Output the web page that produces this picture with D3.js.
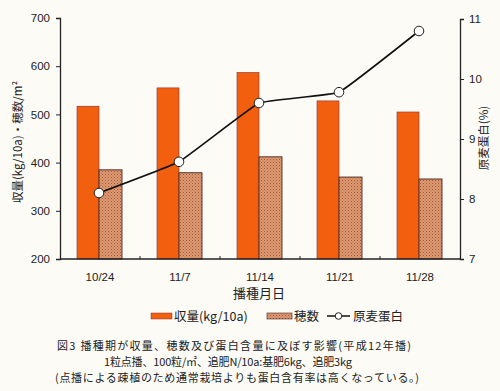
<!DOCTYPE html>
<html><head><meta charset="utf-8">
<script src="https://cdn.jsdelivr.net/npm/d3@7"></script>
<style>
html,body{margin:0;padding:0;background:#fcfbf6;}
svg{display:block;}
</style></head>
<body>
<script>
const dates = ["10/24","11/7","11/14","11/21","11/28"];
const yieldVals = [517, 555, 587, 528, 505];
const earVals = [385, 379, 412, 370, 366];
const proteinVals = [8.1, 8.62, 9.6, 9.78, 10.8];
const leftTicks = [200,300,400,500,600,700];
const rightTicks = [7,8,9,10,11];
const captionLines = [
  "図3  播種期が収量、穂数及び蛋白含量に及ぼす影響(平成12年播)",
  "1粒点播、100粒/㎡、追肥N/10a:基肥6kg、追肥3kg",
  "(点播による疎植のため通常栽培よりも蛋白含有率は高くなっている。)"
];

const W=500,H=391;
const svg=d3.select("body").append("svg").attr("width",W).attr("height",H);
svg.append("rect").attr("width",W).attr("height",H).attr("fill","#fcfbf6");
const defs=svg.append("defs");
const pat=defs.append("pattern").attr("id","hatch").attr("patternUnits","userSpaceOnUse").attr("width",3).attr("height",3);
pat.append("rect").attr("width",3).attr("height",3).attr("fill","#dc9a72");
pat.append("rect").attr("x",0).attr("y",0).attr("width",1).attr("height",1).attr("fill","#a8583a");
pat.append("rect").attr("x",1.5).attr("y",1.5).attr("width",1).attr("height",1).attr("fill","#b86a48");

const L=60,R=460,T=18,B=259;
const x=d3.scaleBand().domain(dates).range([L,R]);
const yL=d3.scaleLinear().domain([200,700]).range([B,T]);
const yR=d3.scaleLinear().domain([7,11]).range([B,19]);
const bw=22;
const tickFont="'Liberation Sans',Arial,sans-serif";
const jp="'Noto Sans CJK JP',sans-serif";

// bars
const g=svg.append("g");
g.selectAll(".yb").data(dates).join("rect")
  .attr("x",d=>x(d)+x.bandwidth()/2-bw-1)
  .attr("y",(d,i)=>yL(yieldVals[i]))
  .attr("width",bw).attr("height",(d,i)=>B-yL(yieldVals[i]))
  .attr("fill","#f2600f").attr("stroke","#8a3030").attr("stroke-width",0.6);
g.selectAll(".eb").data(dates).join("rect")
  .attr("x",d=>x(d)+x.bandwidth()/2-1)
  .attr("y",(d,i)=>yL(earVals[i]))
  .attr("width",bw+1).attr("height",(d,i)=>B-yL(earVals[i]))
  .attr("fill","url(#hatch)").attr("stroke","#4a2a20").attr("stroke-width",0.9);

// axes
const axL=svg.append("g").attr("transform",`translate(${L},0)`)
  .call(d3.axisLeft(yL).tickValues(leftTicks).tickSize(4).tickPadding(6));
const axR=svg.append("g").attr("transform",`translate(${R},0)`)
  .call(d3.axisRight(yR).tickValues(rightTicks).tickFormat(d3.format("d")).tickSize(4).tickPadding(5));
const axB=svg.append("g").attr("transform",`translate(0,${B})`)
  .call(d3.axisBottom(x).tickSize(0).tickPadding(14));
// inward ticks at band boundaries
svg.append("g").selectAll("line").data(dates.slice(1)).join("line")
  .attr("x1",d=>x(d)).attr("x2",d=>x(d)).attr("y1",B).attr("y2",B-3)
  .attr("stroke","#222").attr("stroke-width",1);
[axL,axR,axB].forEach(a=>{
  a.selectAll("path.domain").attr("stroke","#222").attr("stroke-width",1.3);
  a.selectAll(".tick line").attr("stroke","#222").attr("stroke-width",1);
  a.selectAll("text").attr("font-family",tickFont).attr("font-size",11.5).attr("fill","#222");
});
axB.select("path.domain").attr("d",`M${L},0H${R}`);

// line
const line=d3.line().x((d,i)=>x(dates[i])+x.bandwidth()/2-1).y(d=>yR(d)).curve(d3.curveCardinal.tension(0.75));
svg.append("path").datum(proteinVals).attr("d",line).attr("fill","none").attr("stroke","#111").attr("stroke-width",1.6);
svg.selectAll(".pt").data(proteinVals).join("circle")
  .attr("cx",(d,i)=>x(dates[i])+x.bandwidth()/2-1).attr("cy",d=>yR(d)).attr("r",4.8)
  .attr("fill","#fff").attr("stroke","#222").attr("stroke-width",1);

// axis titles
svg.append("text").attr("transform","translate(22,142) rotate(-90)").attr("text-anchor","middle")
  .attr("font-family",jp).attr("font-size",11.5).attr("fill","#222").text("収量(kg/10a)・穂数/m²");
svg.append("text").attr("transform","translate(488,138) rotate(-90)").attr("text-anchor","middle")
  .attr("font-family",jp).attr("font-size",11.5).attr("fill","#222").text("原麦蛋白(%)");
svg.append("text").attr("x",259).attr("y",298).attr("text-anchor","middle")
  .attr("font-family",jp).attr("font-size",13).attr("fill","#222").text("播種月日");

// legend
const lg=svg.append("g").attr("font-family",jp).attr("font-size",12.5).attr("fill","#222");
lg.append("rect").attr("x",151).attr("y",313).attr("width",21).attr("height",6).attr("fill","#f2600f").attr("stroke","#8a3030").attr("stroke-width",0.5);
lg.append("text").attr("x",174).attr("y",320.5).text("収量(kg/10a)");
lg.append("rect").attr("x",267).attr("y",313).attr("width",25).attr("height",6).attr("fill","url(#hatch)").attr("stroke","#4a2a20").attr("stroke-width",0.6);
lg.append("text").attr("x",294).attr("y",320.5).text("穂数");
lg.append("line").attr("x1",327).attr("x2",350).attr("y1",316).attr("y2",316).attr("stroke","#111").attr("stroke-width",1.5);
lg.append("circle").attr("cx",338.5).attr("cy",316).attr("r",3.3).attr("fill","#fff").attr("stroke","#222").attr("stroke-width",1);
lg.append("text").attr("x",353).attr("y",320.5).text("原麦蛋白");

// caption
const cy=[350,366,382];
const cx=[234,228,237];
const cw=[354,248,364];
svg.append("g").selectAll("text").data(captionLines).join("text")
  .attr("x",(d,i)=>cx[i]).attr("y",(d,i)=>cy[i]).attr("text-anchor","middle")
  .attr("textLength",(d,i)=>cw[i]).attr("lengthAdjust","spacing")
  .attr("font-family","'Noto Sans CJK JP',sans-serif").attr("font-size",11).attr("fill","#222")
  .text(d=>d);
</script>
</body></html>
